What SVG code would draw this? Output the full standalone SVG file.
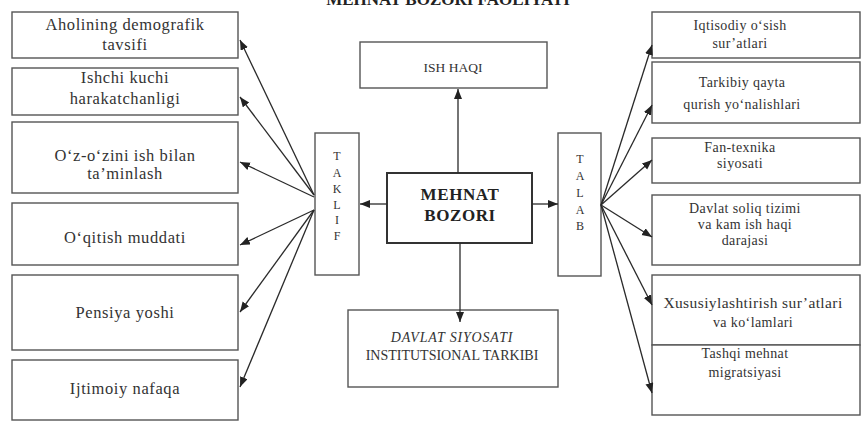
<svg xmlns="http://www.w3.org/2000/svg" width="864" height="422" viewBox="0 0 864 422">
<defs>
<marker id="ah" markerUnits="userSpaceOnUse" markerWidth="11" markerHeight="9" refX="10" refY="4" orient="auto">
<path d="M0,0 L10,4 L0,8 z" fill="#222"/>
</marker>
<style>
.box{fill:#fff;stroke:#555;stroke-width:1.4}
.t{fill:#333;text-anchor:middle}
.l{font-size:16.5px;letter-spacing:0.6px}
.r{font-size:14px;letter-spacing:0.4px}
.v{font-size:12px}
.c{stroke:#2a2a2a;stroke-width:1.3;fill:none;marker-end:url(#ah)}
</style>
</defs>
<rect width="864" height="422" fill="#fff"/>
<g font-family="Liberation Serif, Times New Roman, serif">
<text class="t" x="448" y="5" style="font-size:17px;font-weight:bold;fill:#222">MEHNAT BOZORI FAOLIYATI</text>

<g id="left1"><rect class="box" x="12" y="12" width="226" height="46"/><text class="t l" x="125" y="30">Aholining demografik</text><text class="t l" x="125" y="50">tavsifi</text></g>
<g id="left2"><rect class="box" x="12" y="68" width="226" height="47"/><text class="t l" x="125" y="83">Ishchi kuchi</text><text class="t l" x="125" y="104">harakatchanligi</text></g>
<g id="left3"><rect class="box" x="12" y="122" width="226" height="71"/><text class="t l" x="125" y="161">O‘z-o‘zini ish bilan</text><text class="t l" x="125" y="179">ta’minlash</text></g>
<g id="left4"><rect class="box" x="12" y="203" width="226" height="62"/><text class="t l" x="125" y="243">O‘qitish muddati</text></g>
<g id="left5"><rect class="box" x="12" y="275" width="226" height="75"/><text class="t l" x="125" y="318">Pensiya yoshi</text></g>
<g id="left6"><rect class="box" x="12" y="360" width="226" height="60"/><text class="t l" x="125" y="394">Ijtimoiy nafaqa</text></g>

<g id="taklif"><rect class="box" x="315" y="133" width="44" height="142"/>
<text class="t v" x="337" y="160">T</text>
<text class="t v" x="337" y="177">A</text>
<text class="t v" x="337" y="193">K</text>
<text class="t v" x="337" y="209">L</text>
<text class="t v" x="337" y="224">I</text>
<text class="t v" x="337" y="240">F</text></g>

<g id="talab"><rect class="box" x="558" y="133" width="43" height="143"/>
<text class="t v" x="580" y="163">T</text>
<text class="t v" x="580" y="180">A</text>
<text class="t v" x="580" y="197">L</text>
<text class="t v" x="580" y="214">A</text>
<text class="t v" x="580" y="230">B</text></g>

<g id="mehnat"><rect class="box" x="387" y="173" width="145" height="70" style="stroke:#333;stroke-width:2"/>
<text class="t" x="460" y="200" style="font-size:17px;font-weight:bold;letter-spacing:0.6px;fill:#222">MEHNAT</text>
<text class="t" x="460" y="221" style="font-size:17px;font-weight:bold;letter-spacing:0.6px;fill:#222">BOZORI</text></g>

<g id="ishhaqi"><rect class="box" x="360" y="42" width="187" height="46"/><text class="t" x="453" y="72" style="font-size:13.5px">ISH HAQI</text></g>

<g id="davlat"><rect class="box" x="348" y="310" width="210" height="77"/>
<text class="t" x="452" y="342" style="font-size:14px;font-style:italic;letter-spacing:0.8px">DAVLAT SIYOSATI</text>
<text class="t" x="452" y="360" style="font-size:14px">INSTITUTSIONAL TARKIBI</text></g>

<g id="right1"><rect class="box" x="652" y="12" width="208" height="46"/><text class="t r" x="740" y="30">Iqtisodiy o‘sish</text><text class="t r" x="740" y="48">sur’atlari</text></g>
<g id="right2"><rect class="box" x="652" y="62" width="208" height="61"/><text class="t r" x="742" y="87">Tarkibiy qayta</text><text class="t r" x="742" y="109">qurish yo‘nalishlari</text></g>
<g id="right3"><rect class="box" x="652" y="138" width="208" height="45"/><text class="t r" x="740" y="152">Fan-texnika</text><text class="t r" x="740" y="168">siyosati</text></g>
<g id="right4"><rect class="box" x="652" y="195" width="208" height="70"/><text class="t r" x="745" y="213">Davlat soliq tizimi</text><text class="t r" x="745" y="229">va kam ish haqi</text><text class="t r" x="745" y="245">darajasi</text></g>
<g id="right5"><rect class="box" x="652" y="275" width="208" height="70"/><text class="t r" x="753" y="308" style="font-size:15.5px">Xususiylashtirish sur’atlari</text><text class="t r" x="753" y="327">va ko‘lamlari</text></g>
<g id="right6"><rect class="box" x="652" y="345" width="208" height="70"/><text class="t r" x="745" y="358">Tashqi mehnat</text><text class="t r" x="745" y="377">migratsiyasi</text></g>
</g>

<g id="connectors">
<path class="c" d="M314,195 L240,40"/>
<path class="c" d="M314,195 L240,97"/>
<path class="c" d="M314,197 L240,162"/>
<path class="c" d="M314,210 L240,245"/>
<path class="c" d="M314,210 L240,312"/>
<path class="c" d="M314,210 L240,387"/>
<path class="c" d="M601,205 L652,45"/>
<path class="c" d="M601,205 L652,105"/>
<path class="c" d="M601,205 L652,160"/>
<path class="c" d="M601,205 L652,237"/>
<path class="c" d="M601,205 L652,305"/>
<path class="c" d="M601,205 L652,393"/>
<path class="c" d="M387,204 L360,204"/>
<path class="c" d="M532,204 L558,204"/>
<path class="c" d="M458,173 L458,89"/>
<path class="c" d="M460,243 L460,322"/>
</g>
</svg>
